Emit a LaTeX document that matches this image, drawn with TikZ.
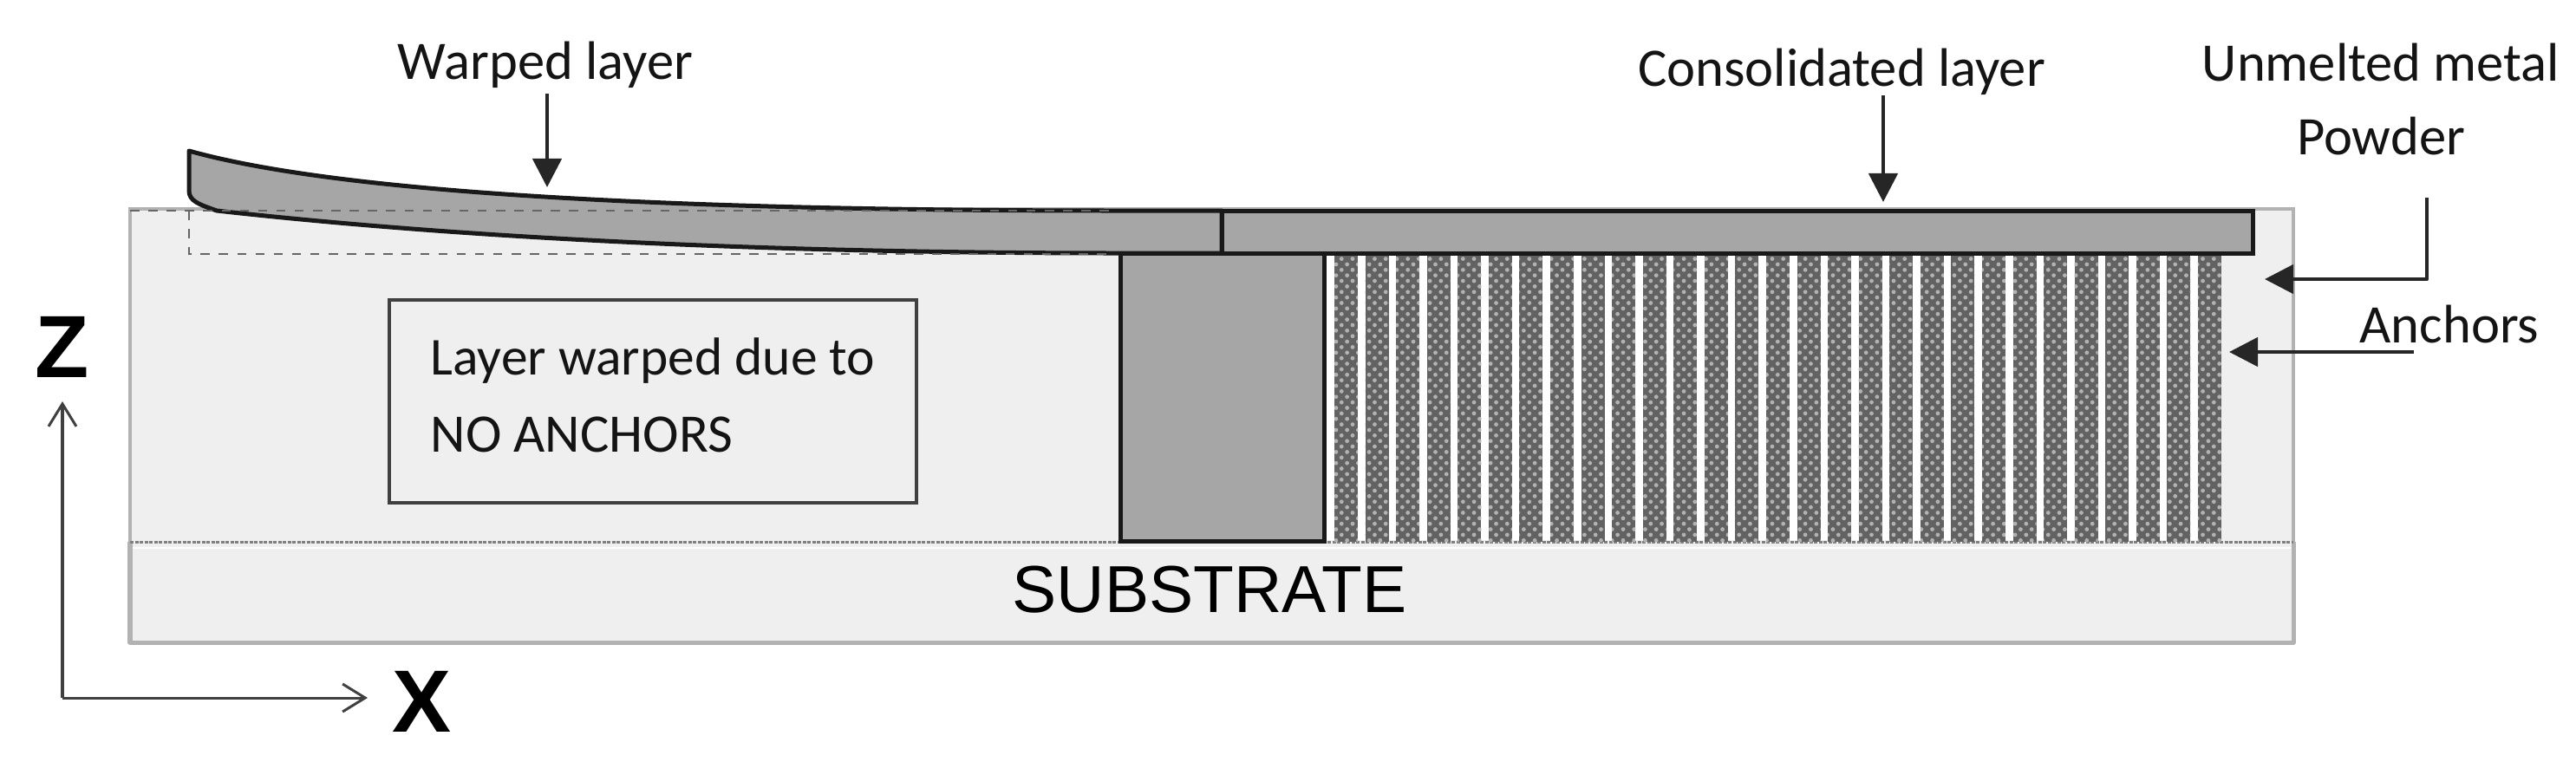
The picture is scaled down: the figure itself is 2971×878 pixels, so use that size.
\documentclass[tikz,border=0pt]{standalone}
\usepackage{fontspec}
\setmainfont{Carlito}
\newfontfamily\arialfont{Liberation Sans}
\usetikzlibrary{arrows.meta, patterns.meta}
\definecolor{powdergray}{RGB}{239,239,239}
\definecolor{edgegray}{RGB}{178,178,178}
\definecolor{layergray}{RGB}{166,166,166}
\definecolor{anchorgray}{RGB}{98,98,98}
\tikzset{
  labeltext/.style={font=\fontsize{17.8pt}{21pt}\selectfont, text=black!92, inner sep=0pt},
  leader/.style={-{Stealth[inset=0pt, length=0.33cm, width=0.33cm]}, line width=0.045cm, black!85},
  axisline/.style={-{Straight Barb[length=0.26cm, width=0.32cm]}, line width=0.03cm, black!75},
  axisname/.style={font=\arialfont\bfseries\fontsize{29pt}{34pt}\selectfont, inner sep=0pt},
  solidpart/.style={fill=layergray, draw=black!90, line width=0.05cm},
}
\begin{document}
\begin{tikzpicture}[x=0.01cm, y=-0.01cm]
  \useasboundingbox (0,0) rectangle (2971,878);
  % Powder bed and substrate
  \fill[powdergray] (150,241) rectangle (2645,741);
  \draw[edgegray, line width=0.05cm, line join=round] (150,625) -- (150,741) -- (2645,741) -- (2645,625);
  \draw[edgegray, line width=0.04cm] (150,625) |- (2645,241) -- (2645,625);
  \draw[white, line width=0.025cm] (153,632) -- (2642,632);
  \draw[black!50, dash pattern=on 0.04cm off 0.015cm, line width=0.03cm] (150,625) -- (2645,625);
  % Anchors
  \fill[white] (1527,292) rectangle (2538,623);
  \foreach \i in {0,...,28} {
    \fill[anchorgray] ({1539+\i*35.57},292) rectangle ({1566+\i*35.57},625);
    \fill[pattern={Dots[distance=0.09cm, radius=0.024cm, angle=45]}, pattern color=black!30]
      ({1539+\i*35.57},292) rectangle ({1566+\i*35.57},625);
  }
  % Support block
  \draw[solidpart] (1292,292) rectangle (1527,624);
  % Warped part of the layer
  \draw[solidpart, line join=round] (218,174) .. controls (400,225) and (800,243) .. (1290,243)
    -- (1409,243) -- (1409,292) -- (1290,292) .. controls (760,292) and (420,262) .. (250,243)
    .. controls (230,236) and (218,232) .. (218,220) -- cycle;
  % Consolidated part of the layer
  \draw[solidpart] (1409,243) rectangle (2598,292);
  % Position of the flat layer
  \draw[black!60, dashed, line width=0.022cm] (218,243) -- (218,293) -- (1285,293);
  \draw[black!60, dashed, line width=0.022cm] (150,243) -- (1285,243);
  % Note box
  \node[draw=black!75, line width=0.04cm, fill=powdergray, minimum width=6.08cm, minimum height=2.33cm] (notebox) at (753,463) {};
  \node[labeltext, font=\fontsize{17.5pt}{21pt}\selectfont, anchor=west] (notefirst) at (496,416) {Layer warped due to};
  \node[labeltext, anchor=west] (notesecond) at (496,501) {NO ANCHORS};
  \node[font=\arialfont\fontsize{21.8pt}{26pt}\selectfont, inner sep=0pt] (substrate) at (1395,680) {SUBSTRATE};
  % Labels with arrows
  \node[labeltext] (warped) at (629,75) {Warped layer};
  \node[labeltext] (consolidated) at (2124,83) {Consolidated layer};
  \node[labeltext] (unmelted) at (2746,72) {Unmelted metal};
  \node[labeltext] (powder) at (2746,157) {Powder};
  \node[labeltext] (anchors) at (2825,374) {Anchors};
  \coordinate (warpedtip) at (631,216);
  \coordinate (warpedtail) at (631,108);
  \coordinate (consolidatedtip) at (2172,233);
  \coordinate (consolidatedtail) at (2172,110);
  \coordinate (powdertail) at (2799,228);
  \coordinate (powderbend) at (2799,322);
  \coordinate (powdertip) at (2612,322);
  \coordinate (anchorstail) at (2784,406);
  \coordinate (anchorstip) at (2571,406);
  \draw[leader] (warpedtail) -- (warpedtip);
  \draw[leader] (consolidatedtail) -- (consolidatedtip);
  \draw[leader, line join=round] (powdertail) -- (powderbend) -- (powdertip);
  \draw[leader] (anchorstail) -- (anchorstip);
  % Axes
  \coordinate (origin) at (72,805);
  \coordinate (zend) at (72,463);
  \coordinate (xend) at (424,805);
  \draw[axisline] (origin) -- (xend);
  \draw[axisline] (origin) -- (zend);
  \node[axisname] (zname) at (72,400) {Z};
  \node[axisname] (xname) at (487,809) {X};
\end{tikzpicture}
\end{document}
